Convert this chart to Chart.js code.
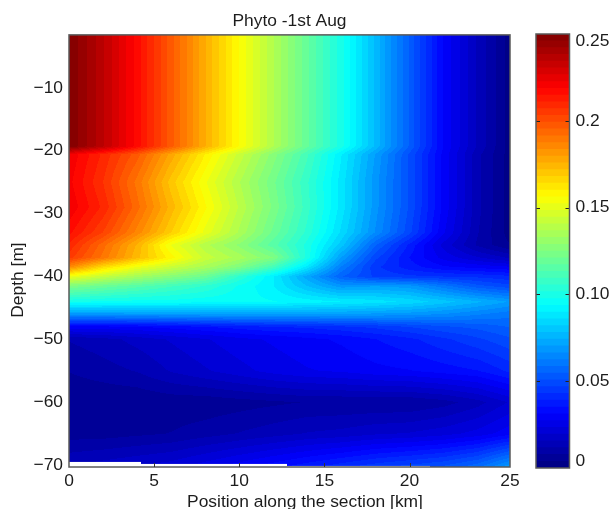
<!DOCTYPE html>
<html>
<head>
<meta charset="utf-8">
<script src="https://cdn.jsdelivr.net/npm/chart.js@4"></script>
<style>
html,body{margin:0;padding:0;background:#fff;}
#wrap{position:relative;width:611px;height:509px;overflow:hidden;}
canvas{position:absolute;left:0;top:0;}
</style>
</head>
<body>
<div id="wrap">
<canvas id="main" width="611" height="509"></canvas>
<canvas id="bar" width="611" height="509"></canvas>
</div>
<script>
const titleText = 'Phyto -1st Aug';
const xTitle = 'Position along the section [km]';
const yTitle = 'Depth [m]';
const xTickValues = [0, 5, 10, 15, 20, 25.9];
const xTickLabels = ['0', '5', '10', '15', '20', '25'];
const yTickValues = [-10, -20, -30, -40, -50, -60, -70];
const yTickLabels = ['\u221210', '\u221220', '\u221230', '\u221240', '\u221250', '\u221260', '\u221270'];
const cbLabelValues = [0.004, 0.05, 0.10, 0.15, 0.20, 0.246];
const cbLabels = ['0', '0.05', '0.10', '0.15', '0.2', '0.25'];
const cbMarks = [0.05, 0.10, 0.15, 0.20];

const positions = [0, 2, 4, 6, 8, 10, 12, 14, 16, 18, 20, 22, 24, 25.9];
const depths = [-1.6, -19.3, -20.6, -25, -29, -33, -35, -37, -38.5, -40, -41.5, -44, -46, -48, -50, -55, -60, -65, -70.3];
const phyto = [
 [.250,.235,.217,.197,.176,.156,.137,.118,.099,.077,.054,.031,.015,.002],
 [.250,.235,.217,.197,.176,.156,.137,.118,.099,.077,.054,.031,.015,.002],
 [.222,.210,.197,.178,.160,.143,.127,.110,.090,.070,.050,.030,.013,.002],
 [.220,.207,.190,.170,.153,.137,.122,.106,.088,.068,.050,.030,.013,.002],
 [.222,.210,.193,.174,.157,.140,.124,.107,.088,.068,.050,.030,.013,.002],
 [.216,.203,.186,.168,.151,.136,.120,.104,.085,.066,.048,.028,.012,.002],
 [.210,.193,.175,.152,.138,.128,.115,.100,.080,.055,.038,.022,.011,.004],
 [.205,.190,.173,.158,.143,.135,.125,.100,.070,.048,.035,.026,.020,.015],
 [.185,.165,.152,.143,.135,.125,.110,.088,.062,.044,.037,.032,.030,.028],
 [.152,.142,.134,.127,.120,.105,.090,.072,.055,.046,.044,.043,.042,.040],
 [.125,.120,.115,.110,.105,.097,.090,.078,.068,.070,.068,.060,.052,.048],
 [.098,.097,.096,.096,.095,.095,.094,.092,.090,.088,.085,.080,.075,.070],
 [.068,.068,.069,.069,.070,.070,.070,.070,.070,.069,.068,.066,.063,.060],
 [.030,.030,.031,.033,.035,.037,.039,.040,.042,.044,.047,.050,.052,.055],
 [.012,.014,.017,.020,.023,.026,.028,.030,.032,.035,.038,.042,.046,.050],
 [.008,.010,.012,.016,.019,.022,.025,.027,.028,.030,.031,.033,.035,.040],
 [.004,.004,.004,.005,.005,.006,.007,.008,.008,.008,.008,.010,.014,.020],
 [.006,.006,.007,.008,.010,.012,.014,.016,.017,.019,.020,.022,.025,.030],
 [.016,.018,.020,.022,.026,.030,.034,.038,.042,.046,.049,.052,.058,.070]
];
const seabedBreaks = [0, 4.2, 12.8, 21.2, 25.9];
const seabedDepths = [-69.5, -69.85, -70.1, -70.3];

const COLOR_MIN = 0, COLOR_MAX = 0.25, LEVELS = 64;
const TXT = '#1c1c1c', FRAME = '#5a5a5a', FONT = 'Liberation Sans, Arial, sans-serif', FS = 17.4;

function jet(t){
  const c = f => Math.round(255 * Math.max(0, Math.min(1, f)));
  return [c(1.5 - Math.abs(4*t - 3)), c(1.5 - Math.abs(4*t - 2)), c(1.5 - Math.abs(4*t - 1))];
}
function levelColor(v){
  let i = Math.floor((v - COLOR_MIN) / (COLOR_MAX - COLOR_MIN) * LEVELS);
  i = Math.max(0, Math.min(LEVELS - 1, i));
  return jet((i + 0.5) / LEVELS);
}
function bracket(a, v){
  for (let i = 0; i < a.length - 1; i++) {
    const lo = Math.min(a[i], a[i+1]), hi = Math.max(a[i], a[i+1]);
    if (v >= lo && v <= hi) return [i, (v - a[i]) / (a[i+1] - a[i])];
  }
  return Math.abs(v - a[0]) < Math.abs(v - a[a.length-1]) ? [0, 0] : [a.length - 2, 1];
}
function fieldAt(x, d){
  const [ix, tx] = bracket(positions, x);
  const [iy, ty] = bracket(depths, d);
  const a = phyto[iy][ix], b = phyto[iy][ix+1], c = phyto[iy+1][ix], e = phyto[iy+1][ix+1];
  return (a*(1-tx) + b*tx)*(1-ty) + (c*(1-tx) + e*tx)*ty;
}
function seabedAt(x){
  for (let i = 0; i < seabedDepths.length; i++) if (x <= seabedBreaks[i+1]) return seabedDepths[i];
  return seabedDepths[seabedDepths.length - 1];
}

const meshPlugin = {
  id: 'mesh',
  beforeDatasetsDraw(chart){
    const {ctx, chartArea: a, scales: {x, y}} = chart;
    const w = Math.round(a.right - a.left), h = Math.round(a.bottom - a.top);
    const off = document.createElement('canvas');
    off.width = w; off.height = h;
    const oc = off.getContext('2d');
    const img = oc.createImageData(w, h);
    for (let j = 0; j < h; j++) {
      const d = y.getValueForPixel(a.top + j + 0.5);
      for (let i = 0; i < w; i++) {
        const km = x.getValueForPixel(a.left + i + 0.5);
        const p = (j*w + i)*4;
        if (d < seabedAt(km)) { img.data[p+3] = 0; continue; }
        const col = levelColor(fieldAt(km, d));
        img.data[p] = col[0]; img.data[p+1] = col[1]; img.data[p+2] = col[2]; img.data[p+3] = 255;
      }
    }
    oc.putImageData(img, 0, 0);
    ctx.save();
    ctx.beginPath();
    ctx.rect(a.left, a.top, a.right - a.left, a.bottom - a.top);
    ctx.clip();
    ctx.filter = 'blur(0.6px)';
    ctx.drawImage(off, a.left, a.top);
    ctx.restore();
  },
  afterDatasetsDraw(chart){
    const {ctx, chartArea: a, scales: {x}} = chart;
    ctx.save();
    ctx.strokeStyle = FRAME;
    ctx.lineWidth = 1.5;
    ctx.strokeRect(a.left, a.top, a.right - a.left, a.bottom - a.top);
    ctx.strokeStyle = '#333';
    ctx.lineWidth = 1;
    xTickValues.slice(1, 5).forEach(v => {
      const px = Math.round(x.getPixelForValue(v)) + 0.5;
      ctx.beginPath(); ctx.moveTo(px, a.bottom); ctx.lineTo(px, a.bottom - 4); ctx.stroke();
    });
    ctx.fillStyle = TXT;
    ctx.font = FS + 'px ' + FONT;
    ctx.textAlign = 'center';
    ctx.textBaseline = 'middle';
    ctx.fillText(xTitle, 305, 502);
    ctx.translate(18, 280);
    ctx.rotate(-Math.PI/2);
    ctx.fillText(yTitle, 0, 0);
    ctx.restore();
  }
};

const meshPoints = [];
depths.forEach((d, r) => positions.forEach((p, c) => meshPoints.push({x: p, y: d, v: phyto[r][c]})));

new Chart(document.getElementById('main'), {
  type: 'scatter',
  data: {datasets: [{label: 'Phyto', data: meshPoints, pointRadius: 0, showLine: false}]},
  plugins: [meshPlugin],
  options: {
    responsive: false, animation: false, events: [],
    layout: {padding: {left: 0, right: 101, top: 0, bottom: 0}},
    plugins: {
      legend: {display: false}, tooltip: {enabled: false},
      title: {display: true, text: titleText, fullSize: false, color: TXT,
        font: {family: FONT, size: FS, weight: 'normal'}, padding: {top: 11, bottom: 3}}
    },
    scales: {
      x: {
        type: 'linear', min: 0, max: 25.9,
        grid: {display: false, drawTicks: false}, border: {display: false},
        afterBuildTicks: s => { s.ticks = xTickValues.map(v => ({value: v})); },
        afterFit: s => { s.height = 42; },
        ticks: {autoSkip: false, maxRotation: 0, padding: 4, color: TXT,
          font: {family: FONT, size: FS},
          callback: (v, i) => xTickLabels[i]}
      },
      y: {
        type: 'linear', min: -70.3, max: -1.6,
        grid: {display: false, drawTicks: false}, border: {display: false},
        afterBuildTicks: s => { s.ticks = yTickValues.map(v => ({value: v})); },
        afterFit: s => { s.width = 69; },
        ticks: {autoSkip: false, padding: 6, color: TXT,
          font: {family: FONT, size: FS},
          callback: (v, i) => yTickLabels[i]}
      }
    }
  }
});

const levelTops = [];
for (let i = 1; i <= LEVELS; i++) levelTops.push(COLOR_MAX * i / LEVELS);

const barFrame = {
  id: 'barFrame',
  afterDatasetsDraw(chart){
    const {ctx, chartArea: a, scales: {y}} = chart;
    ctx.save();
    ctx.strokeStyle = '#222';
    ctx.lineWidth = 1.2;
    cbMarks.forEach(v => {
      const py = Math.round(y.getPixelForValue(v)) + 0.5;
      ctx.beginPath();
      ctx.moveTo(a.left, py); ctx.lineTo(a.left + 4, py);
      ctx.moveTo(a.right, py); ctx.lineTo(a.right - 4, py);
      ctx.stroke();
    });
    ctx.strokeStyle = FRAME;
    ctx.lineWidth = 1.5;
    ctx.strokeRect(a.left, a.top, a.right - a.left, a.bottom - a.top);
    ctx.restore();
  }
};

new Chart(document.getElementById('bar'), {
  type: 'bar',
  data: {
    labels: ['scale'],
    datasets: levelTops.map((top, i) => {
      const c = jet((i + 0.5) / LEVELS);
      return {label: 'level ' + i, data: [top], backgroundColor: `rgb(${c[0]},${c[1]},${c[2]})`,
        borderWidth: 0, grouped: false, barPercentage: 1, categoryPercentage: 1};
    })
  },
  plugins: [barFrame],
  options: {
    responsive: false, animation: false, events: [],
    layout: {padding: {left: 536, right: 0, top: 34, bottom: 41}},
    plugins: {legend: {display: false}, tooltip: {enabled: false}, title: {display: false}},
    scales: {
      x: {display: false},
      y: {
        type: 'linear', position: 'right', min: 0, max: COLOR_MAX,
        grid: {display: false, drawTicks: false}, border: {display: false},
        afterBuildTicks: s => { s.ticks = cbLabelValues.map(v => ({value: v})); },
        afterFit: s => { s.width = 41.5; },
        ticks: {autoSkip: false, padding: 6, color: TXT,
          font: {family: FONT, size: FS},
          callback: (v, i) => cbLabels[i]}
      }
    }
  }
});
</script>
</body>
</html>
